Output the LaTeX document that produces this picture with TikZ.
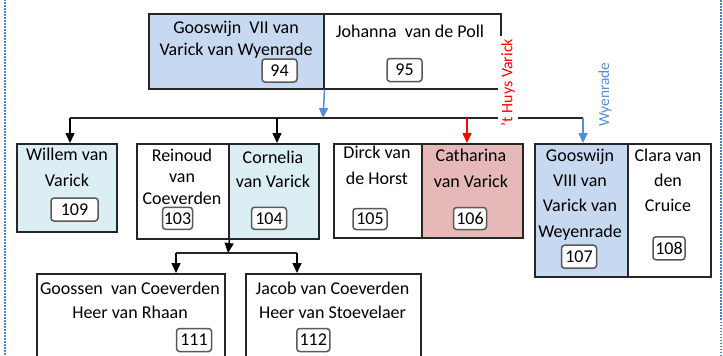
\documentclass[tikz,border=0pt]{standalone}
\usepackage{fontspec}
\setmainfont{Carlito}
\usepackage{xcolor}
\usetikzlibrary{arrows.meta}
\definecolor{parentblue}{HTML}{C6D9F1}
\definecolor{childaqua}{HTML}{DAEEF3}
\definecolor{rosefill}{HTML}{E6B9B8}
\definecolor{linkblue}{HTML}{558ED5}
\definecolor{framedot}{HTML}{4F81BD}
\definecolor{chipgray}{HTML}{595959}

\begin{document}
\begin{tikzpicture}[
  x=1pt, y=-1pt,
  font=\fontsize{18pt}{26pt}\selectfont,
  every node/.style={align=center},
  person/.style={draw=black!85, line width=1.5pt, inner sep=0pt, anchor=north west},
  who/.style={anchor=base, inner sep=0pt},
  chip/.style={draw=chipgray, line width=1.5pt, rounded corners=3pt, fill=white, inner sep=0pt, minimum width=35pt, minimum height=23pt},
  flow/.style={-{Triangle[length=10pt,width=9pt]}, line width=1.5pt},
  branch/.style={line width=1.5pt, black!85},
  lineage/.style={rotate=90, inner sep=3pt, font=\fontsize{16pt}{18pt}\selectfont},
]
\useasboundingbox (0,0) rectangle (723,356);
\clip (0,0) rectangle (723,356);
% page frame
\draw[framedot, line width=2pt, dash pattern=on 1.5pt off 1.5pt] (5,-10) rectangle (721,370);
% parents (text nodes sit on the baseline of their last line)
\node[person, fill=parentblue, minimum width=175pt, minimum height=75pt] (gooswijn7) at (148,13) {};
\node[person, minimum width=177pt, minimum height=75pt] (johanna) at (323,13) {};
\node[who, font=\fontsize{18pt}{22pt}\selectfont] (gooswijn7-txt) at (236,55) {Gooswijn\ \ VII van\\Varick van Wyenrade};
\node[who] (johanna-txt) at (410,37) {Johanna\ \ van de Poll};
\node[chip] (n94) at (279.5,70.5) {94};
\node[chip] (n95) at (404.5,70) {95};
% children
\node[person, fill=childaqua, minimum width=100pt, minimum height=88pt] (willem) at (16,143) {};
\node[person, minimum width=92pt, minimum height=95pt] (reinoud) at (136,143) {};
\node[person, fill=childaqua, minimum width=90pt, minimum height=95pt] (cornelia) at (228,143) {};
\node[person, minimum width=88pt, minimum height=94pt] (dirck) at (333,143) {};
\node[person, fill=rosefill, minimum width=101pt, minimum height=94pt] (catharina) at (421,143) {};
\node[person, fill=parentblue, minimum width=93pt, minimum height=133pt] (gooswijn8) at (534,143) {};
\node[person, minimum width=83pt, minimum height=133pt] (clara) at (627,143) {};
\node[who] (willem-txt) at (67,186) {Willem van\\Varick};
\node[who, font=\fontsize{18pt}{21.5pt}\selectfont] (reinoud-txt) at (182,204) {Reinoud\\van\\Coeverden};
\node[who, font=\fontsize{18pt}{24pt}\selectfont] (cornelia-txt) at (273,187) {Cornelia\\van Varick};
\node[who] (dirck-txt) at (377,184) {Dirck van\\de Horst};
\node[who] (catharina-txt) at (471,187) {Catharina\\van Varick};
\node[who, font=\fontsize{18pt}{25.3pt}\selectfont] (gooswijn8-txt) at (580,237) {Gooswijn\\VIII van\\Varick van\\Weyenrade};
\node[who, font=\fontsize{18pt}{25pt}\selectfont] (clara-txt) at (668,211) {Clara van\\den\\Cruice};
\node[chip, minimum width=47pt] (n109) at (74.5,209.5) {109};
\node[chip, minimum width=30pt, minimum height=22pt] (n103) at (177.5,218.3) {103};
\node[chip, minimum height=22pt] (n104) at (269,218.3) {104};
\node[chip, minimum width=34pt, minimum height=21pt] (n105) at (370,219) {105};
\node[chip, minimum width=33pt, minimum height=22pt] (n106) at (470,218.5) {106};
\node[chip] (n107) at (579,256.7) {107};
\node[chip, minimum width=32pt] (n108) at (669,248.3) {108};
% grandchildren
\node[person, minimum width=188pt, minimum height=100pt] (goossen) at (36,273) {};
\node[person, minimum width=175pt, minimum height=100pt] (jacob) at (245,273) {};
\node[who, font=\fontsize{18pt}{24pt}\selectfont] (goossen-txt) at (130,318) {Goossen\ \ van Coeverden\\Heer van Rhaan};
\node[who, font=\fontsize{18pt}{24pt}\selectfont] (jacob-txt) at (332.5,318) {Jacob van Coeverden\\Heer van Stoevelaer};
\node[chip] (n111) at (194,340) {111};
\node[chip, minimum width=33pt] (n112) at (313.3,340) {112};
% descent lines
\coordinate (fam1) at (323,118);
\coordinate (bus-w) at (70,118);
\coordinate (bus-c) at (277,118);
\coordinate (bus-k) at (467,118);
\coordinate (bus-g) at (583,118);
\draw[branch] (bus-w) -- (bus-g);
\draw[flow, linkblue] (gooswijn7.south east) -- (fam1);
\draw[flow] (bus-w) -- (bus-w |- willem.north);
\draw[flow] (bus-c) -- (bus-c |- cornelia.north);
\draw[flow, red] (bus-k) -- (bus-k |- catharina.north);
\draw[flow, linkblue] (bus-g) -- (bus-g |- gooswijn8.north);
\coordinate (fam2) at (228,253);
\coordinate (bus-l) at (176,253);
\coordinate (bus-r) at (297,253);
\draw[flow] (reinoud.south east) -- (fam2);
\draw[branch] (bus-l) -- (bus-r);
\draw[flow] (bus-l) -- (bus-l |- goossen.north);
\draw[flow] (bus-r) -- (bus-r |- jacob.north);
% house labels
\node[lineage, fill=white, text=red] (huys) at (508,82.5) {'t Huys Varick};
\node[lineage, text=linkblue, font=\fontsize{15.4pt}{18pt}\selectfont] (wyenrade) at (605,94.5) {Wyenrade};
\end{tikzpicture}
\end{document}
